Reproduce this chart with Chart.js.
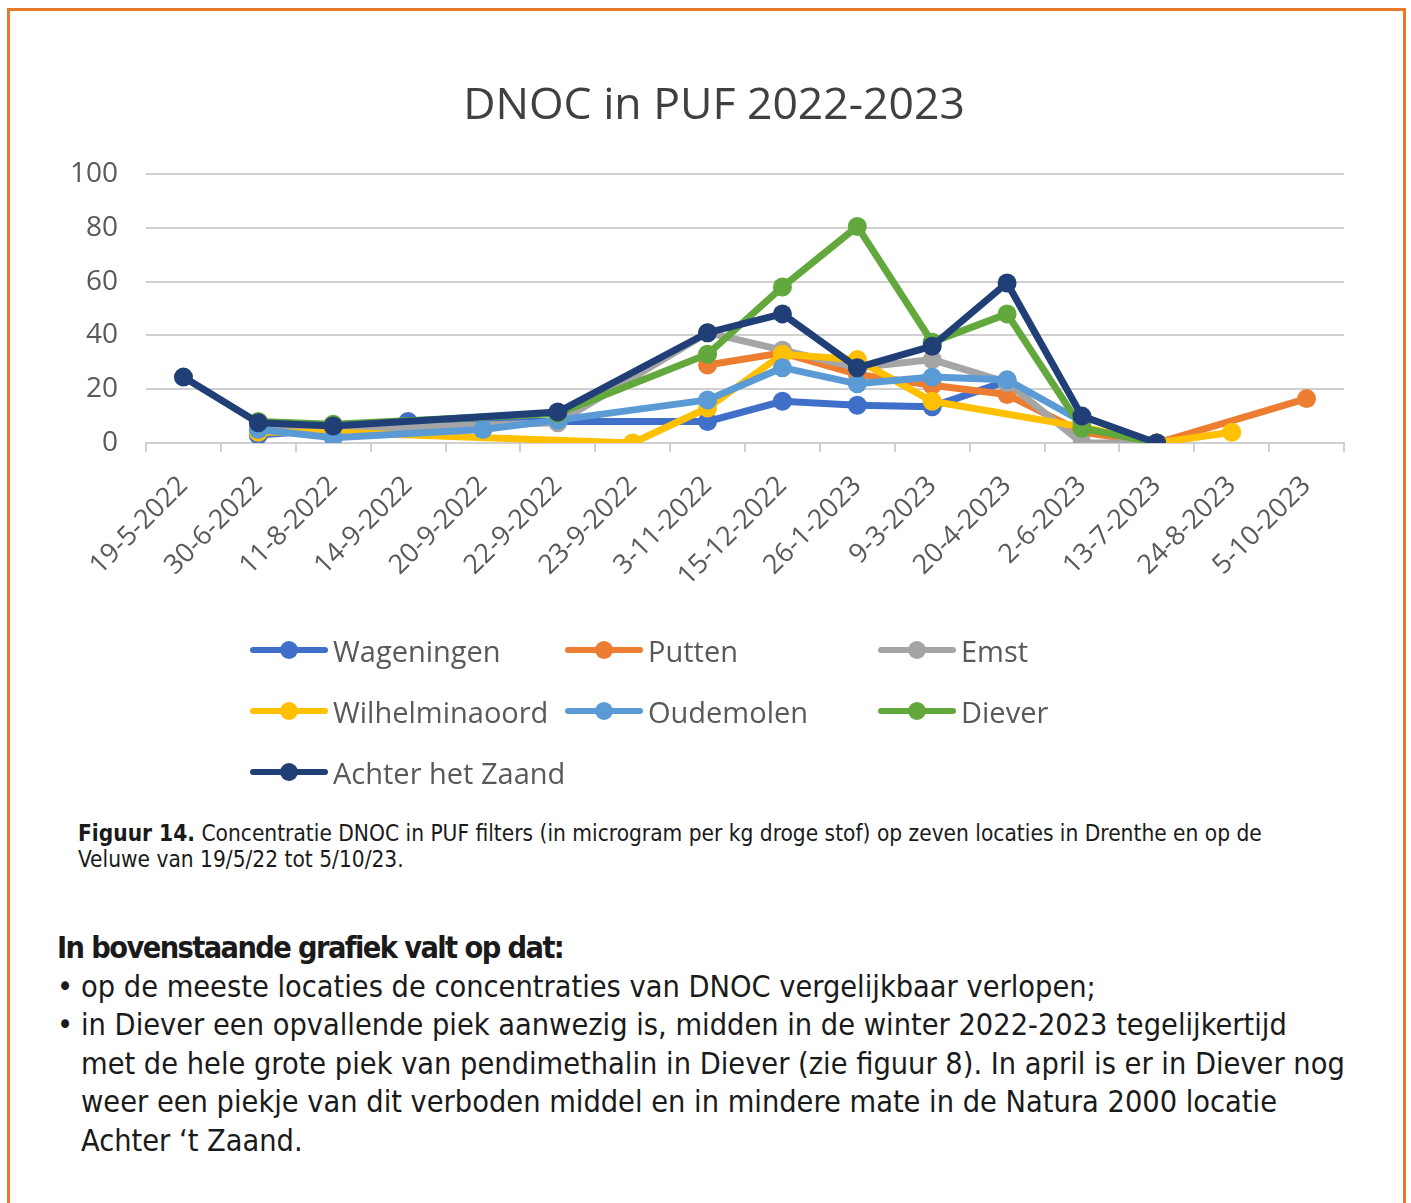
<!DOCTYPE html>
<html>
<head>
<meta charset="utf-8">
<script src="https://cdn.jsdelivr.net/npm/chart.js@4/dist/chart.umd.min.js"></script>
<style>
  html, body { margin:0; padding:0; background:#fff; }
  body { width:1411px; height:1203px; position:relative; overflow:hidden; }
  #frame { position:absolute; left:7px; top:8px; width:1399px; height:1260px; border:3px solid #E8782A; box-sizing:border-box; }
  #chartWrap { position:absolute; left:0; top:0; width:1411px; height:610px; }
  #title { position:absolute; left:414px; width:600px; top:72px; height:60px; line-height:60px; text-align:center; font-family:"Open Sans", sans-serif; font-size:44.5px; color:#404040; white-space:nowrap; }
  #legend { position:absolute; left:0; top:0; width:1411px; height:820px; pointer-events:none; }
  .lg { position:absolute; height:30px; display:flex; align-items:center; font-family:"Open Sans", sans-serif; font-size:29px; color:#595959; white-space:nowrap; }
  .sw { position:relative; width:78px; height:30px; margin-right:5px; }
  .sw .ln { position:absolute; left:0; top:12px; width:78px; height:6px; border-radius:3px; }
  .sw .pt { position:absolute; left:30px; top:6px; width:18px; height:18px; border-radius:50%; }
  .txt { position:absolute; white-space:nowrap; color:#1a1a1a; font-family:"DejaVu Sans Condensed","Liberation Sans Narrow",Roboto,sans-serif; }
  #caption { left:78px; top:820px; font-size:22.5px; line-height:26px; }
  #para { left:57px; top:929px; font-size:30.4px; line-height:38.5px; width:1330px; }
  #para .ln2 { position:relative; padding-left:24px; height:38.5px; }
  #para .bul { position:absolute; left:0; top:0; }
  #para .hd { font-weight:bold; letter-spacing:-1.6px; height:38.5px; }
</style>
</head>
<body>
<div id="frame"></div>
<div id="chartWrap"><canvas id="c" width="1411" height="610"></canvas></div>
<div id="title"></div>
<div id="legend"></div>
<div class="txt" id="caption"><b>Figuur 14.</b> Concentratie DNOC in PUF filters (in microgram per kg droge stof) op zeven locaties in Drenthe en op de<br>Veluwe van 19/5/22 tot 5/10/23.</div>
<div class="txt" id="para">
  <div class="hd">In bovenstaande grafiek valt op dat:</div>
  <div class="ln2"><span class="bul">•</span>op de meeste locaties de concentraties van DNOC vergelijkbaar verlopen;</div>
  <div class="ln2"><span class="bul">•</span>in Diever een opvallende piek aanwezig is, midden in de winter 2022-2023 tegelijkertijd</div>
  <div class="ln2">met de hele grote piek van pendimethalin in Diever (zie figuur 8). In april is er in Diever nog</div>
  <div class="ln2">weer een piekje van dit verboden middel en in mindere mate in de Natura 2000 locatie</div>
  <div class="ln2">Achter ‘t Zaand.</div>
</div>
<script>
const chartTitle = 'DNOC in PUF 2022-2023';
const categories = ['19-5-2022','30-6-2022','11-8-2022','14-9-2022','20-9-2022','22-9-2022','23-9-2022','3-11-2022','15-12-2022','26-1-2023','9-3-2023','20-4-2023','2-6-2023','13-7-2023','24-8-2023','5-10-2023'];
const yTicks = [0, 20, 40, 60, 80, 100];
const seriesNames = ['Wageningen','Putten','Emst','Wilhelminaoord','Oudemolen','Diever','Achter het Zaand'];
const wageningen     = [null, 3, 5, 8, null, 8, null, 8, 15.5, 14, 13.5, 23, null, null, null, null];
const putten         = [null, null, null, null, null, null, null, 29, 33.5, 25.5, 21.5, 18, 4, 0, null, 16.5];
const emst           = [null, 6, 5, null, null, 7.5, null, 41, 34.5, 28, 31, 22.5, 0, 0, null, null];
const wilhelminaoord = [null, 4, 4, null, null, null, 0, 13, 33, 31, 15.5, null, 6, 0, 4, null];
const oudemolen      = [null, 5, 2, null, 5, 8.5, null, 16, 28, 22, 24.5, 23.5, 8, null, null, null];
const diever         = [null, 8, 7, null, null, 11, null, 33, 58, 80.5, 37.5, 48, 5.5, 0, null, null];
const achterHetZaand = [24.5, 7.5, 6.3, null, null, 11.5, null, 41, 48, 28, 36, 59.5, 10, 0, null, null];
const colors = ['#3F6FC9','#ED7D31','#A5A5A5','#FFC000','#5B9BD5','#62A83C','#213F77'];
const seriesData = [wageningen, putten, emst, wilhelminaoord, oudemolen, diever, achterHetZaand];

document.getElementById('title').textContent = chartTitle;

Chart.defaults.font.family = '"Open Sans", sans-serif';
Chart.defaults.color = '#595959';

const datasets = seriesNames.map((n, i) => ({
  label: n,
  data: seriesData[i],
  borderColor: colors[i],
  backgroundColor: colors[i],
  pointBackgroundColor: colors[i],
  pointBorderWidth: 0,
  pointRadius: 9.5,
  pointHoverRadius: 9.5,
  borderWidth: 7,
  spanGaps: true,
  tension: 0,
  order: seriesNames.length - 1 - i
}));

const chart = new Chart(document.getElementById('c'), {
  type: 'line',
  data: { labels: categories, datasets },
  options: {
    responsive: false,
    animation: false,
    layout: { padding: { left: 40, right: 67, top: 174, bottom: 0 } },
    plugins: {
      legend: { display: false },
      tooltip: { enabled: false },
      title: { display: false }
    },
    scales: {
      x: {
        offset: true,
        grid: { offset: true, drawOnChartArea: false, drawTicks: true, tickLength: 9, color: '#d0d0d0', lineWidth: 2 },
        border: { display: true, color: '#d0d0d0', width: 2 },
        ticks: { autoSkip: false, minRotation: 45, maxRotation: 45, padding: 18, font: { size: 27 }, color: '#595959' },
        afterFit: s => { s.height = 167; }
      },
      y: {
        min: 0, max: 100,
        afterBuildTicks: s => { s.ticks = yTicks.map(v => ({ value: v })); },
        grid: { color: '#d0d0d0', lineWidth: 2, drawTicks: false },
        border: { display: false },
        ticks: { padding: 28, font: { size: 28 }, color: '#595959' },
        afterFit: s => { s.width = 106; }
      }
    }
  }
});

// HTML legend built from the chart's datasets
const legendEl = document.getElementById('legend');
const colX = [250, 565, 878];
const rowY = [650, 711, 772];
chart.data.datasets.forEach((ds, i) => {
  const d = document.createElement('div');
  d.className = 'lg';
  d.style.left = colX[i % 3] + 'px';
  d.style.top = (rowY[Math.floor(i / 3)] - 15) + 'px';
  d.innerHTML = '<div class="sw"><div class="ln" style="background:' + ds.borderColor + '"></div><div class="pt" style="background:' + ds.borderColor + '"></div></div>';
  const t = document.createElement('span');
  t.textContent = ds.label;
  d.appendChild(t);
  legendEl.appendChild(d);
});
</script>
</body>
</html>
